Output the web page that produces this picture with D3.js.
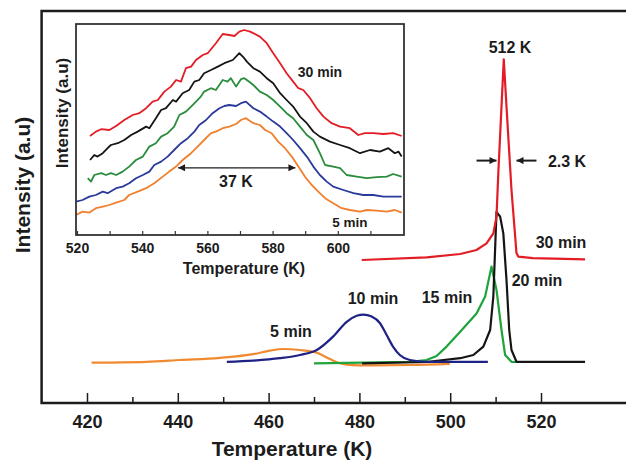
<!DOCTYPE html>
<html>
<head>
<meta charset="utf-8">
<script src="https://cdn.jsdelivr.net/npm/d3@7"></script>
<style>
  body { margin: 0; background: #fff; }
</style>
</head>
<body>
<div id="chart"></div>
<script>
// main plot, [temperature K, intensity a.u.]
const main5 = [[421, 10.1], [433.1, 10.3], [440.5, 10.75], [449.3, 11.3], [456.6, 12.2], [460.3, 13.1],
  [463.2, 13.5], [466.9, 13.25], [470.6, 12.6], [472.8, 11.4], [475, 10.2], [477.2, 9.6], [480.1, 9.4],
  [491.1, 9.5], [499.9, 9.8]];
const main10 = [[450.8, 10.3], [456.6, 10.6], [462.5, 11.2], [466.9, 12], [470.6, 13.25], [474.2, 16.6],
  [477.2, 20.3], [479.4, 21.8], [480.9, 22.1], [482.7, 21.6], [484.5, 20], [486, 17], [487.4, 14.1],
  [488.9, 12], [491.1, 10.75], [494.8, 10.3], [508.3, 10.3]];
const main15 = [[470, 9.9], [491.1, 10.3], [494.8, 10.75], [497, 11.75], [499.2, 14.1], [502.2, 17.8],
  [505.8, 22.4], [507.7, 26.6], [509.1, 34.1], [510.2, 28.25], [511.3, 18.25], [512.1, 12],
  [513.5, 10.3], [514.6, 10.25]];
const main20 = [[480.6, 9.9], [494.8, 10.25], [502.2, 11.2], [505.1, 12], [507.3, 14.1], [508.8, 18.25],
  [509.5, 26.6], [510.2, 47.8], [511, 46.6], [511.7, 42.4], [512.4, 30.75], [513, 18.25],
  [513.5, 13.25], [514.6, 10.3], [529.7, 10.3]];
const main30 = [[480.5, 35.75], [494.8, 36.4], [502.2, 37.25], [505.8, 38.25], [508, 39.9], [509.5, 42.4],
  [510.2, 46.6], [510.6, 57.5], [511.3, 74.1], [511.8, 85.9], [512.4, 74.1], [513.5, 53.25],
  [514.6, 37.5], [515, 36.6], [518.2, 36.2], [529.7, 35.9]];

// inset, [temperature K, intensity a.u.]
const inset5 = [[519.7, 10], [521.7, 11.7], [523.8, 11.2], [525.8, 13.4], [527.9, 14.2], [529.9, 15],
  [532, 16.2], [534.5, 17.5], [536, 20], [538.6, 21.7], [541.2, 23.4], [543.7, 25.9], [546.3, 29.2],
  [548.3, 31.7], [550.4, 34.2], [552.4, 37.5], [555, 40.9], [557, 44.2], [559, 47.5], [561.1, 50.9],
  [562.6, 51.7], [564.7, 53.4], [566.7, 54.2], [568.8, 55.5], [570.3, 57.5], [571.8, 58.4],
  [574.1, 55.9], [576.1, 55], [577.7, 52.5], [579.7, 50.9], [581.7, 46.7], [583.8, 43.4],
  [585.9, 39.2], [587.9, 34.2], [589.9, 29.2], [592, 25], [594, 21.7], [596.1, 18.4], [598.6, 15.9],
  [601.2, 13.4], [603.7, 12.5], [606.8, 11.7], [608.9, 12.5], [611.9, 12.2], [615, 11.7],
  [617.5, 12.5], [619.6, 11.2]];
const inset10 = [[519.7, 16.7], [521.7, 17.5], [523.8, 19.2], [525.8, 20], [527.9, 21.7], [529.4, 20.9],
  [532, 23.4], [534, 24.2], [536, 25.9], [538.1, 28.4], [540.2, 30], [542.2, 31.7], [543.7, 35],
  [545.8, 36.7], [547.8, 39.2], [549.8, 42.5], [551.9, 45.9], [554, 48.4], [556, 51.7], [557.5, 55],
  [559.6, 57.5], [561.6, 60.9], [563.7, 63.4], [565.2, 64.5], [566.7, 65], [568.8, 64.5],
  [570.3, 65.9], [571.8, 66.7], [574.1, 63.4], [576.1, 61.7], [578.2, 59.2], [580.2, 56.7],
  [582.3, 54.2], [584.3, 50.9], [586.3, 47.5], [588.4, 43.4], [590.5, 39.2], [592.5, 34.2],
  [594.5, 30], [596.6, 26.7], [598.6, 24.2], [601.7, 22.5], [604.8, 20.9], [607.8, 20], [610.9, 20],
  [614, 19.2], [617, 19.2], [619.6, 19.2]];
const inset15 = [[523.3, 28.4], [524.3, 26.7], [525.3, 30], [527.4, 30.9], [528.9, 30], [530.4, 30.9],
  [532, 30], [534, 31.7], [536, 34.2], [538.1, 37.5], [540.2, 39.2], [542.2, 44.2], [544.2, 45.9],
  [545.8, 49.2], [547.8, 50.9], [549.8, 54.2], [551.4, 60], [553.4, 61.7], [555, 64.2], [556.5, 66.7],
  [558, 69.2], [559, 71.7], [561.1, 73.4], [562.6, 72.5], [564.7, 77.5], [566.2, 76.7], [567.2, 78.4],
  [568.8, 74.2], [570.3, 77.9], [571.3, 78.4], [572.1, 77.5], [574.1, 75], [576.1, 71.7], [578.2, 70],
  [580.2, 67.5], [582.3, 64.2], [584.3, 60.9], [586.3, 58.4], [588.4, 54.2], [590.5, 50],
  [592.5, 47.5], [594.5, 40.9], [596.1, 35], [598.6, 34.2], [600.7, 33.4], [602.7, 30], [605.8, 29.2],
  [608.9, 28.4], [611.9, 28.9], [615, 29.2], [617, 30.5], [619.6, 29.2]];
const inset20 = [[524, 37.5], [525.3, 40], [526.3, 39.2], [527.9, 40.9], [529.4, 43.4], [530.4, 45],
  [532.5, 45.9], [534.5, 47.5], [536.6, 50], [538.6, 51.7], [541.2, 54.2], [542.2, 53.4], [544.2, 58.4],
  [545.8, 62.5], [547.3, 63.4], [549.4, 67.5], [550.4, 66.7], [552.4, 70.9], [554.4, 72.5], [556, 76.7],
  [557.5, 77.5], [559, 80.9], [561.1, 82.5], [563.2, 84.2], [565.2, 85.9], [567.8, 87.5], [569.8, 90.9],
  [571.3, 88.4], [572.1, 86.7], [574.1, 83.4], [576.1, 81.7], [578.2, 78.4], [580.2, 75.9],
  [582.3, 70.9], [584.3, 67.5], [586.3, 64.2], [588.4, 59.2], [590.5, 55.9], [592.5, 51.7],
  [594.5, 49.2], [597.6, 46.7], [600.7, 45], [603.7, 43.4], [606.8, 40.9], [609.9, 42.5], [612.9, 41.7],
  [615.5, 43.4], [617.5, 40.9], [618.6, 41.7], [619.6, 39.2]];
const inset30 = [[524, 49.5], [525.8, 51.7], [527.4, 52.9], [529.9, 52.5], [532, 54.5], [534.5, 57.5],
  [537.1, 60], [539.1, 60.9], [541.2, 63.4], [543.2, 66.7], [544.8, 67.5], [546.8, 71.7], [548.8, 74.2],
  [550.4, 77.5], [551.9, 76.7], [553.4, 83.4], [555, 84.2], [556.5, 87.5], [558.6, 90], [560.1, 90.9],
  [562.6, 95.9], [564.7, 100.5], [566.7, 100], [568.3, 99.5], [569.8, 101.7], [571.3, 102.5],
  [573.1, 101.7], [576.1, 99.2], [578.2, 95.9], [580.2, 90.9], [582.3, 85.9], [584.3, 80.9],
  [586.3, 76.7], [587.9, 73.4], [589.4, 72.5], [591.5, 68.4], [593.5, 63.4], [595.6, 59.2],
  [598.1, 55.9], [600.7, 54.2], [603.7, 53.4], [606.3, 50], [608.3, 50.9], [610.9, 50.9], [614, 50.5],
  [617, 50.9], [619.6, 49.5]];

const mainTicks = [420, 440, 460, 480, 500, 520];
const mainMinor = [430, 450, 470, 490, 510];
const insetTicks = [520, 540, 560, 580, 600];
const insetMinor = [520, 530, 540, 550, 560, 570, 580, 590, 600, 610];

const colors = { m5: "#f08a30", m10: "#1f2285", m15: "#1fa33c", m20: "#151515", m30: "#e31d25" };
const insetColors = { m5: "#f07f2e", m10: "#2a3a9c", m15: "#2a8c3c", m20: "#151515", m30: "#e31d25" };

const width = 626;
const height = 462;
const ink = "#1c1c1c";

const svg = d3.select("#chart")
  .append("svg")
  .attr("width", width)
  .attr("height", height)
  .style("font-family", "'Liberation Sans', Arial, sans-serif")
  .style("font-weight", "bold");

// ---- main plot
var x = d3.scaleLinear().domain([410, 540]).range([41.6, 631.8]);
var y = d3.scaleLinear().domain([0, 98]).range([403, 11]);

var axisG = svg.append("g").attr("transform", `translate(0,${y(0)})`);
axisG.call(d3.axisBottom(x).tickValues(mainTicks).tickSize(-10).tickPadding(12).tickFormat(d3.format("d")));
axisG.append("g").call(d3.axisBottom(x).tickValues(mainMinor).tickSize(-6).tickFormat(""));
axisG.selectAll(".domain").remove();
axisG.selectAll("line").attr("stroke", ink).attr("stroke-width", 1.5);
axisG.selectAll("text").attr("fill", ink).style("font-size", "18px").style("font-family", "inherit");

svg.append("path")
  .attr("d", `M${width + 5},${y(98)}H${x(410)}V${y(0)}H${width + 5}`)
  .attr("fill", "none")
  .attr("stroke", ink)
  .attr("stroke-width", 2.5);

svg.append("text")
  .attr("x", 292).attr("y", 456)
  .attr("text-anchor", "middle")
  .attr("fill", ink)
  .style("font-size", "21px")
  .text("Temperature (K)");

svg.append("text")
  .attr("transform", `translate(23,185) rotate(-90)`)
  .attr("text-anchor", "middle")
  .attr("dy", "0.35em")
  .attr("fill", ink)
  .style("font-size", "21px")
  .text("Intensity (a.u)");

var line = d3.line().x(d => x(d[0])).y(d => y(d[1]));
var smooth = d3.line().x(d => x(d[0])).y(d => y(d[1])).curve(d3.curveMonotoneX);

[[main5, colors.m5, smooth], [main15, colors.m15, line], [main20, colors.m20, line],
 [main10, colors.m10, smooth], [main30, colors.m30, line]].forEach(s => {
  svg.append("path")
    .datum(s[0])
    .attr("d", s[2])
    .attr("fill", "none")
    .attr("stroke", s[1])
    .attr("stroke-width", 2.2)
    .attr("stroke-linejoin", "round");
});

var labels = [
  ["5 min", 291, 331], ["10 min", 373, 298], ["15 min", 447, 297],
  ["20 min", 537, 280], ["30 min", 561, 242], ["512 K", 510, 47], ["2.3 K", 567, 161]
];
labels.forEach(l => {
  svg.append("text")
    .attr("x", l[1]).attr("y", l[2])
    .attr("dy", "0.35em")
    .attr("text-anchor", "middle")
    .attr("fill", ink)
    .style("font-size", "16px")
    .text(l[0]);
});

svg.append("defs").append("marker")
  .attr("id", "head")
  .attr("viewBox", "0 0 10 10")
  .attr("refX", 10).attr("refY", 5)
  .attr("markerWidth", 9).attr("markerHeight", 7)
  .attr("markerUnits", "userSpaceOnUse")
  .attr("orient", "auto-start-reverse")
  .append("path")
  .attr("d", "M0,0L10,5L0,10z")
  .attr("fill", ink);

// 2.3 K width arrows
var fwhmY = y(60.6);
svg.append("line")
  .attr("x1", x(505.8)).attr("x2", x(510.2)).attr("y1", fwhmY).attr("y2", fwhmY)
  .attr("stroke", ink).attr("stroke-width", 2).attr("marker-end", "url(#head)");
svg.append("line")
  .attr("x1", x(519)).attr("x2", x(514.6)).attr("y1", fwhmY).attr("y2", fwhmY)
  .attr("stroke", ink).attr("stroke-width", 2).attr("marker-end", "url(#head)");

// ---- inset
var xi = d3.scaleLinear().domain([520, 620]).range([77, 403]);
var yi = d3.scaleLinear().domain([0, 105.5]).range([235, 24]);

var insetAxis = svg.append("g").attr("transform", `translate(0,${yi(0)})`);
insetAxis.call(d3.axisBottom(xi).tickValues(insetTicks).tickSize(0).tickPadding(8).tickFormat(d3.format("d")));
insetAxis.append("g").call(d3.axisBottom(xi).tickValues(insetMinor).tickSize(-4).tickFormat(""));
insetAxis.selectAll(".domain").remove();
insetAxis.selectAll("line").attr("stroke", "#333").attr("stroke-width", 1.2);
insetAxis.selectAll("text").attr("fill", ink).style("font-size", "14px").style("font-family", "inherit");

var insetLine = d3.line().x(d => xi(d[0])).y(d => yi(d[1]));
[[inset5, insetColors.m5], [inset10, insetColors.m10], [inset15, insetColors.m15],
 [inset20, insetColors.m20], [inset30, insetColors.m30]].forEach(s => {
  svg.append("path")
    .datum(s[0])
    .attr("d", insetLine)
    .attr("fill", "none")
    .attr("stroke", s[1])
    .attr("stroke-width", 1.8)
    .attr("stroke-linejoin", "round");
});

svg.append("rect")
  .attr("x", 76).attr("y", 24)
  .attr("width", 328).attr("height", 211)
  .attr("fill", "none")
  .attr("stroke", "#333")
  .attr("stroke-width", 1.8);

svg.append("text")
  .attr("x", 244).attr("y", 274)
  .attr("text-anchor", "middle")
  .attr("fill", ink)
  .style("font-size", "16px")
  .text("Temperature (K)");

svg.append("text")
  .attr("transform", `translate(62,113) rotate(-90)`)
  .attr("text-anchor", "middle")
  .attr("dy", "0.35em")
  .attr("fill", ink)
  .style("font-size", "17px")
  .text("Intensity (a.u)");

[["30 min", 320, 72, 14], ["5 min", 350, 222, 13.5], ["37 K", 236, 181, 16]].forEach(l => {
  svg.append("text")
    .attr("x", l[1]).attr("y", l[2])
    .attr("dy", "0.35em")
    .attr("text-anchor", "middle")
    .attr("fill", ink)
    .style("font-size", l[3] + "px")
    .text(l[0]);
});

// 37 K width arrow
svg.append("line")
  .attr("x1", xi(551)).attr("x2", xi(587)).attr("y1", yi(33.6)).attr("y2", yi(33.6))
  .attr("stroke", ink).attr("stroke-width", 1.3)
  .attr("marker-start", "url(#head)").attr("marker-end", "url(#head)");
</script>
</body>
</html>
